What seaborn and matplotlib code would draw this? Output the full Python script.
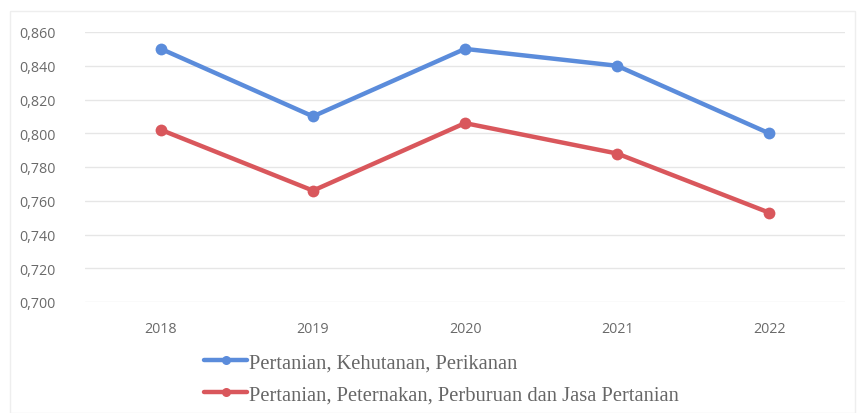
import matplotlib
matplotlib.use("Agg")
import matplotlib.pyplot as plt
import seaborn as sns
import pandas as pd
from matplotlib.ticker import FuncFormatter
from matplotlib.patches import Rectangle

years = ["2018", "2019", "2020", "2021", "2022"]
series_names = ["Pertanian, Kehutanan, Perikanan",
                "Pertanian, Peternakan, Perburuan dan Jasa Pertanian"]
blue_vals = [0.850, 0.810, 0.850, 0.840, 0.800]
red_vals = [0.802, 0.766, 0.806, 0.788, 0.753]
yticks = [0.700, 0.720, 0.740, 0.760, 0.780, 0.800, 0.820, 0.840, 0.860]

df = pd.DataFrame({
    "Tahun": years * 2,
    "Nilai": blue_vals + red_vals,
    "Seri": [series_names[0]] * len(years) + [series_names[1]] * len(years),
})

sns.set_theme(style="white")
plt.rcParams['font.family'] = ['Open Sans', 'DejaVu Sans']

fig = plt.figure(figsize=(8.58, 4.14), dpi=100)
ax = fig.add_axes([85/858, 1 - 303/414, 760/858, 270/414])

palette = {series_names[0]: "#5B8CDB", series_names[1]: "#D9575C"}
sns.lineplot(data=df, x="Tahun", y="Nilai", hue="Seri", palette=palette,
             marker="o", markersize=8.5, markeredgewidth=0, linewidth=3.2,
             ax=ax, sort=False)

ax.set_xlim(-0.5, 4.5)
ax.set_ylim(0.700, 0.860)
ax.set_yticks(yticks)
ax.yaxis.set_major_formatter(FuncFormatter(lambda v, p: f"{v:.3f}".replace(".", ",")))
ax.grid(axis="y", color="#E6E6E6", linewidth=1)
ax.grid(axis="x", visible=False)
for s in ax.spines.values():
    s.set_visible(False)
ax.tick_params(axis="both", colors="#6A6A6A", labelsize=10.3, length=0)
ax.tick_params(axis="y", pad=21)
ax.tick_params(axis="x", pad=14)
ax.set_xlabel("")
ax.set_ylabel("")

handles, labels = ax.get_legend_handles_labels()
ax.get_legend().remove()
for h in handles:
    h.set_markersize(6.5)
fig.legend(handles, labels, loc="upper left", bbox_to_anchor=(204/858, 1 - 354/414),
           frameon=False, prop={"family": "Liberation Serif", "size": 14.8},
           labelcolor="#666666", handlelength=2.1, handletextpad=0.1,
           labelspacing=0.62, borderaxespad=0, borderpad=0)

fig.patches.append(Rectangle((10/858, 0), 845/858, 1 - 12/414, transform=fig.transFigure,
                             fill=False, edgecolor="#EEEEEE", linewidth=1))

fig.savefig("out.png", dpi=100)
